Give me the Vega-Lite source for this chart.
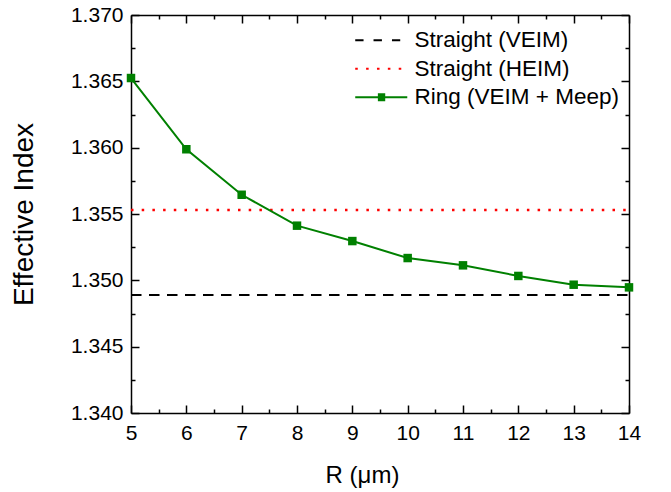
{
  "$schema": "https://vega.github.io/schema/vega-lite/v6.json",
  "width": 498,
  "height": 398,
  "autosize": "none",
  "padding": {"left": 131, "top": 15, "right": 42, "bottom": 79},
  "background": "white",
  "config": {
    "view": {"stroke": null},
    "axis": {
      "domainColor": "black",
      "domainWidth": 1.5,
      "tickColor": "black",
      "tickWidth": 1.5,
      "grid": false,
      "labelFont": "Liberation Sans",
      "titleFont": "Liberation Sans",
      "labelColor": "black",
      "titleColor": "black",
      "labelFontSize": 21,
      "titleFontWeight": "normal",
      "labelOverlap": false,
      "labelFlush": false,
      "labelBound": false
    },
    "legend": {
      "orient": "none",
      "legendX": 236,
      "legendY": 14,
      "padding": 0,
      "symbolSize": 225,
      "symbolStrokeWidth": 2,
      "symbolOpacity": 1,
      "symbolFillColor": "transparent",
      "labelFont": "Liberation Sans",
      "labelFontSize": 22.5,
      "labelColor": "black",
      "labelOffset": 25,
      "rowPadding": 5.5,
      "labelLimit": 400
    }
  },
  "data": {
    "values": [
      {"series": "Straight (VEIM)", "R": 5, "n": 1.3489},
      {"series": "Straight (VEIM)", "R": 14, "n": 1.3489},
      {"series": "Straight (HEIM)", "R": 5, "n": 1.3553},
      {"series": "Straight (HEIM)", "R": 14, "n": 1.3553},
      {"series": "Ring (VEIM + Meep)", "R": 5, "n": 1.36525},
      {"series": "Ring (VEIM + Meep)", "R": 6, "n": 1.35988},
      {"series": "Ring (VEIM + Meep)", "R": 7, "n": 1.35645},
      {"series": "Ring (VEIM + Meep)", "R": 8, "n": 1.35412},
      {"series": "Ring (VEIM + Meep)", "R": 9, "n": 1.35296},
      {"series": "Ring (VEIM + Meep)", "R": 10, "n": 1.35168},
      {"series": "Ring (VEIM + Meep)", "R": 11, "n": 1.35113},
      {"series": "Ring (VEIM + Meep)", "R": 12, "n": 1.35033},
      {"series": "Ring (VEIM + Meep)", "R": 13, "n": 1.34967},
      {"series": "Ring (VEIM + Meep)", "R": 14, "n": 1.34947}
    ]
  },
  "layer": [
    {
      "transform": [{"filter": "datum.series === 'Straight (VEIM)'"}],
      "mark": {"type": "line", "color": "black", "strokeWidth": 2, "strokeDash": [10.5, 7.5]},
      "encoding": {
        "x": {
          "field": "R", "type": "quantitative",
          "scale": {"domain": [5, 14], "nice": false, "zero": false},
          "axis": {
            "orient": "bottom",
            "values": [5, 5.5, 6, 6.5, 7, 7.5, 8, 8.5, 9, 9.5, 10, 10.5, 11, 11.5, 12, 12.5, 13, 13.5, 14],
            "labelExpr": "datum.value % 1 === 0 ? format(datum.value, 'd') : ''",
            "tickSize": {"condition": {"test": "datum.value % 1 === 0", "value": -8}, "value": -4},
            "labelPadding": 17,
            "title": "R (μm)",
            "titleFontSize": 24,
            "titleX": 231,
            "titleY": 69,
            "titleBaseline": "alphabetic",
            "titleAlign": "center"
          }
        },
        "y": {
          "field": "n", "type": "quantitative",
          "scale": {"domain": [1.34, 1.37], "nice": false, "zero": false},
          "axis": {
            "orient": "left",
            "values": [1.34, 1.3425, 1.345, 1.3475, 1.35, 1.3525, 1.355, 1.3575, 1.36, 1.3625, 1.365, 1.3675, 1.37],
            "labelExpr": "abs(datum.value*200 - round(datum.value*200)) < 0.01 ? format(datum.value, '.3f') : ''",
            "tickSize": {"condition": {"test": "abs(datum.value*200 - round(datum.value*200)) < 0.01", "value": -8}, "value": -4},
            "labelPadding": 16,
            "title": "Effective Index",
            "titleFontSize": 28,
            "titleAngle": -90,
            "titleX": -99,
            "titleY": 199,
            "titleBaseline": "alphabetic",
            "titleAlign": "center"
          }
        }
      }
    },
    {
      "transform": [{"filter": "datum.series === 'Straight (HEIM)'"}],
      "mark": {"type": "line", "color": "#ff0000", "strokeWidth": 2.5, "strokeDash": [2.5, 8.2]},
      "encoding": {
        "x": {"field": "R", "type": "quantitative", "axis": null},
        "y": {"field": "n", "type": "quantitative", "axis": null}
      }
    },
    {
      "transform": [{"filter": "datum.series === 'Ring (VEIM + Meep)'"}],
      "mark": {"type": "line", "color": "#008000", "strokeWidth": 2},
      "encoding": {
        "x": {"field": "R", "type": "quantitative", "axis": null},
        "y": {"field": "n", "type": "quantitative", "axis": null}
      }
    },
    {
      "transform": [{"filter": "datum.series === 'Ring (VEIM + Meep)'"}],
      "mark": {"type": "point", "shape": "square", "filled": true, "color": "#008000", "opacity": 1, "size": 72},
      "encoding": {
        "x": {"field": "R", "type": "quantitative", "axis": null},
        "y": {"field": "n", "type": "quantitative", "axis": null}
      }
    },
    {
      "transform": [{"filter": "false"}],
      "mark": {"type": "point", "filled": false, "opacity": 1, "strokeWidth": 2},
      "encoding": {
        "x": {
          "field": "R", "type": "quantitative",
          "axis": {
            "orient": "top",
            "values": [5, 5.5, 6, 6.5, 7, 7.5, 8, 8.5, 9, 9.5, 10, 10.5, 11, 11.5, 12, 12.5, 13, 13.5, 14],
            "labels": false,
            "title": null,
            "tickSize": {"condition": {"test": "datum.value % 1 === 0", "value": -8}, "value": -4}
          }
        },
        "y": {
          "field": "n", "type": "quantitative",
          "axis": {
            "orient": "right",
            "values": [1.34, 1.3425, 1.345, 1.3475, 1.35, 1.3525, 1.355, 1.3575, 1.36, 1.3625, 1.365, 1.3675, 1.37],
            "labels": false,
            "title": null,
            "tickSize": {"condition": {"test": "abs(datum.value*200 - round(datum.value*200)) < 0.01", "value": -8}, "value": -4}
          }
        },
        "color": {
          "field": "series", "type": "nominal",
          "scale": {
            "domain": ["Straight (VEIM)", "Straight (HEIM)", "Ring (VEIM + Meep)"],
            "range": ["black", "#ff0000", "#008000"]
          },
          "legend": {"title": null}
        },
        "shape": {
          "field": "series", "type": "nominal",
          "scale": {
            "domain": ["Straight (VEIM)", "Straight (HEIM)", "Ring (VEIM + Meep)"],
            "range": [
              "M-3.07,0H-1.96M-0.63,0H0.49M1.83,0H2.93",
              "M-3.07,0H-2.73M-1.62,0H-1.28M-0.17,0H0.17M1.28,0H1.62M2.73,0H3.07",
              "M-3.07,0H3.87M-0.05,-0.4H0.93M-0.05,-0.13H0.93M-0.05,0.13H0.93M-0.05,0.4H0.93"
            ]
          },
          "legend": {"title": null}
        }
      }
    }
  ]
}
